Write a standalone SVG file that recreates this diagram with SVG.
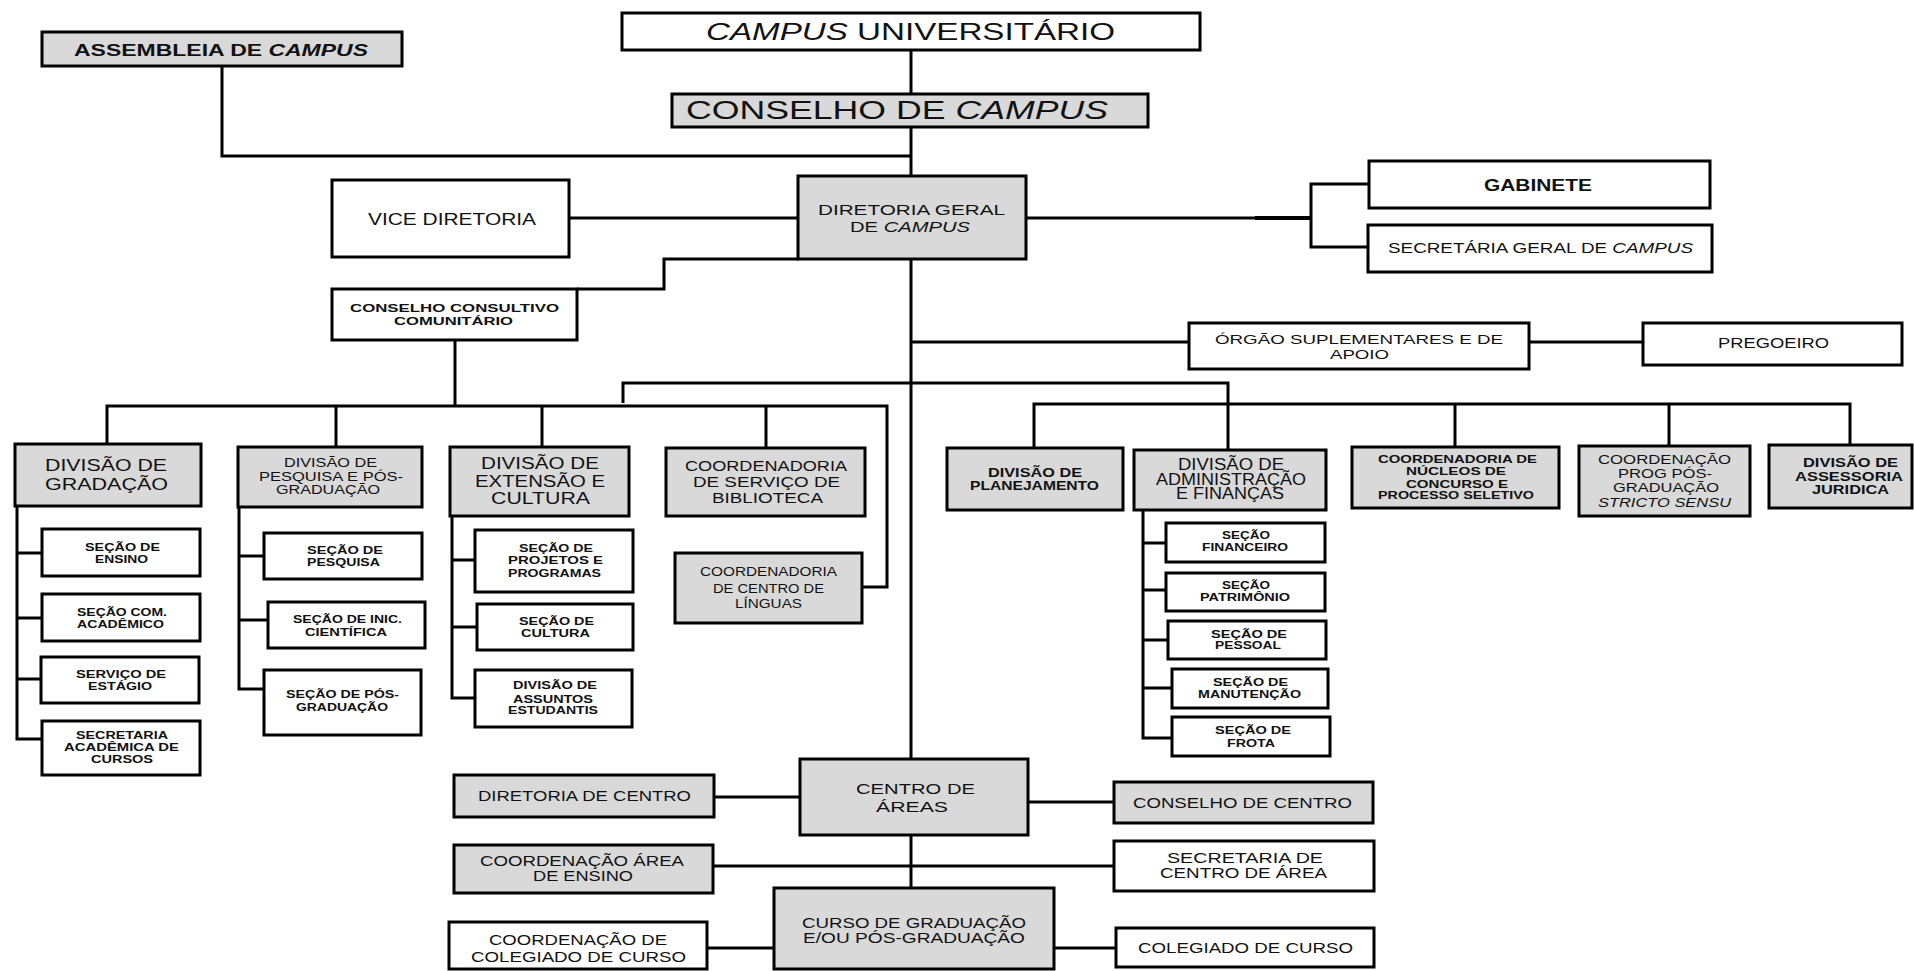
<svg xmlns="http://www.w3.org/2000/svg" width="1914" height="971" viewBox="0 0 1914 971">
<style>
.bx{stroke:#000;stroke-width:3}
.g{fill:#d9d9d9}
.w{fill:#fff}
text{font-family:"Liberation Sans",Arial,sans-serif;fill:#111;text-anchor:middle}
.b{font-weight:bold}
.i{font-style:italic}
#connectors path{fill:none;stroke:#000;stroke-width:3;stroke-linejoin:miter}
</style>
<rect width="1914" height="971" fill="#fff"/>
<g id="connectors">
<path d="M911 50V94"/>
<path d="M911 127V176"/>
<path d="M222 66V156H911"/>
<path d="M569 218H798"/>
<path d="M1026 218H1311"/>
<path d="M1255 218H1311" style="stroke-width:4"/>
<path d="M1369 184H1311V247H1368"/>
<path d="M798 259H664V289H577"/>
<path d="M911 259V759"/>
<path d="M911 342H1189"/>
<path d="M1529 342H1643"/>
<path d="M623 403V383H1228V450"/>
<path d="M455 340V406"/>
<path d="M107 444V406H887V587H862"/>
<path d="M336 406V447"/>
<path d="M542 406V447"/>
<path d="M766 406V448"/>
<path d="M1034 448V404H1850V445"/>
<path d="M1455 404V447"/>
<path d="M1669 404V446"/>
<path d="M17 506V739H42M17 553H42M17 618H42M17 679H41"/>
<path d="M239 507V689H264M239 556H264M239 620H268"/>
<path d="M452 516V698H475M452 560H475M452 627H477"/>
<path d="M1143 510V738H1172M1143 543H1166M1143 590H1166M1143 640H1168M1143 688H1172"/>
<path d="M714 797H800"/>
<path d="M1028 802H1114"/>
<path d="M911 835V888"/>
<path d="M713 866H1114"/>
<path d="M707 948H774"/>
<path d="M1054 948H1116"/>
</g>
<g id="campus-universitario"><rect class="bx w" x="622" y="13" width="578" height="37"/><text x="910.5" y="40" font-size="23" textLength="409" lengthAdjust="spacingAndGlyphs"><tspan class="i">CAMPUS</tspan> UNIVERSITÁRIO</text></g>
<g id="assembleia"><rect class="bx g" x="42" y="32" width="360" height="34"/><text class="b" x="221" y="56" font-size="17" textLength="294" lengthAdjust="spacingAndGlyphs">ASSEMBLEIA DE  <tspan class="i">CAMPUS</tspan></text></g>
<g id="conselho-campus"><rect class="bx g" x="672" y="94" width="476" height="33"/><text x="897" y="119" font-size="25" textLength="422" lengthAdjust="spacingAndGlyphs">CONSELHO DE <tspan class="i">CAMPUS</tspan></text></g>
<g id="vice-diretoria"><rect class="bx w" x="332" y="180" width="237" height="77"/><text x="452" y="225" font-size="16" textLength="168" lengthAdjust="spacingAndGlyphs">VICE DIRETORIA</text></g>
<g id="diretoria-geral"><rect class="bx g" x="798" y="176" width="228" height="83"/><text x="911.5" y="215" font-size="14" textLength="187" lengthAdjust="spacingAndGlyphs">DIRETORIA GERAL</text><text x="910" y="232" font-size="14" textLength="120" lengthAdjust="spacingAndGlyphs">DE <tspan class="i">CAMPUS</tspan></text></g>
<g id="gabinete"><rect class="bx w" x="1369" y="161" width="341" height="47"/><text class="b" x="1538" y="191" font-size="17" textLength="108" lengthAdjust="spacingAndGlyphs">GABINETE</text></g>
<g id="secretaria-geral"><rect class="bx w" x="1368" y="225" width="344" height="47"/><text x="1540.5" y="253" font-size="14" textLength="305" lengthAdjust="spacingAndGlyphs">SECRETÁRIA GERAL DE <tspan class="i">CAMPUS</tspan></text></g>
<g id="conselho-consultivo"><rect class="bx w" x="332" y="289" width="245" height="51"/><text class="b" x="454.5" y="312" font-size="11" textLength="209" lengthAdjust="spacingAndGlyphs">CONSELHO CONSULTIVO</text><text class="b" x="453.5" y="325" font-size="11" textLength="119" lengthAdjust="spacingAndGlyphs">COMUNITÁRIO</text></g>
<g id="orgao-suplementares"><rect class="bx w" x="1189" y="323" width="340" height="46"/><text x="1359" y="344" font-size="13" textLength="288" lengthAdjust="spacingAndGlyphs">ÓRGÃO SUPLEMENTARES E DE</text><text x="1359.5" y="359" font-size="13" textLength="59" lengthAdjust="spacingAndGlyphs">APOIO</text></g>
<g id="pregoeiro"><rect class="bx w" x="1643" y="323" width="259" height="42"/><text x="1773.5" y="348" font-size="15" textLength="111" lengthAdjust="spacingAndGlyphs">PREGOEIRO</text></g>
<g id="div-gradacao"><rect class="bx g" x="15" y="444" width="186" height="62"/><text x="106" y="471" font-size="17" textLength="122" lengthAdjust="spacingAndGlyphs">DIVISÃO DE</text><text x="106.5" y="490" font-size="17" textLength="123" lengthAdjust="spacingAndGlyphs">GRADAÇÃO</text></g>
<g id="div-pesquisa"><rect class="bx g" x="238" y="447" width="184" height="60"/><text x="330.5" y="467" font-size="12" textLength="93" lengthAdjust="spacingAndGlyphs">DIVISÃO DE</text><text x="331" y="481" font-size="12" textLength="144" lengthAdjust="spacingAndGlyphs">PESQUISA E PÓS-</text><text x="328" y="494" font-size="12" textLength="104" lengthAdjust="spacingAndGlyphs">GRADUAÇÃO</text></g>
<g id="div-extensao"><rect class="bx g" x="450" y="447" width="179" height="69"/><text x="540" y="469" font-size="16" textLength="118" lengthAdjust="spacingAndGlyphs">DIVISÃO DE</text><text x="540" y="487" font-size="16" textLength="130" lengthAdjust="spacingAndGlyphs">EXTENSÃO E</text><text x="540.5" y="504" font-size="16" textLength="99" lengthAdjust="spacingAndGlyphs">CULTURA</text></g>
<g id="coord-biblioteca"><rect class="bx g" x="666" y="448" width="199" height="68"/><text x="766" y="471" font-size="14" textLength="162" lengthAdjust="spacingAndGlyphs">COORDENADORIA</text><text x="766.5" y="487" font-size="14" textLength="147" lengthAdjust="spacingAndGlyphs">DE SERVIÇO DE</text><text x="767.5" y="503" font-size="14" textLength="111" lengthAdjust="spacingAndGlyphs">BIBLIOTECA</text></g>
<g id="coord-linguas"><rect class="bx g" x="675" y="553" width="187" height="70"/><text x="768.5" y="576" font-size="13" textLength="137" lengthAdjust="spacingAndGlyphs">COORDENADORIA</text><text x="768.5" y="593" font-size="13" textLength="111" lengthAdjust="spacingAndGlyphs">DE CENTRO DE</text><text x="768.5" y="608" font-size="13" textLength="67" lengthAdjust="spacingAndGlyphs">LÍNGUAS</text></g>
<g id="div-planejamento"><rect class="bx g" x="947" y="448" width="176" height="62"/><text class="b" x="1035" y="477" font-size="12" textLength="94" lengthAdjust="spacingAndGlyphs">DIVISÃO DE</text><text class="b" x="1034.5" y="490" font-size="12" textLength="129" lengthAdjust="spacingAndGlyphs">PLANEJAMENTO</text></g>
<g id="div-administracao"><rect class="bx g" x="1134" y="450" width="192" height="60"/><text x="1231" y="470" font-size="16" textLength="106" lengthAdjust="spacingAndGlyphs">DIVISÃO DE</text><text x="1231" y="485" font-size="16" textLength="150" lengthAdjust="spacingAndGlyphs">ADMINISTRAÇÃO</text><text x="1230" y="499" font-size="16" textLength="108" lengthAdjust="spacingAndGlyphs">E FINANÇAS</text></g>
<g id="coord-nucleos"><rect class="bx g" x="1352" y="447" width="207" height="61"/><text class="b" x="1457.5" y="463" font-size="10" textLength="159" lengthAdjust="spacingAndGlyphs">COORDENADORIA DE</text><text class="b" x="1456" y="475" font-size="10" textLength="100" lengthAdjust="spacingAndGlyphs">NÚCLEOS DE</text><text class="b" x="1457" y="488" font-size="10" textLength="102" lengthAdjust="spacingAndGlyphs">CONCURSO E</text><text class="b" x="1456" y="499" font-size="10" textLength="156" lengthAdjust="spacingAndGlyphs">PROCESSO SELETIVO</text></g>
<g id="coord-pos"><rect class="bx g" x="1579" y="446" width="171" height="70"/><text x="1664.5" y="464" font-size="13" textLength="133" lengthAdjust="spacingAndGlyphs">COORDENAÇÃO</text><text x="1665" y="478" font-size="13" textLength="94" lengthAdjust="spacingAndGlyphs">PROG PÓS-</text><text x="1666" y="492" font-size="13" textLength="106" lengthAdjust="spacingAndGlyphs">GRADUAÇÃO</text><text class="i" x="1664.5" y="507" font-size="13" textLength="133" lengthAdjust="spacingAndGlyphs">STRICTO SENSU</text></g>
<g id="div-assessoria"><rect class="bx g" x="1769" y="445" width="143" height="63"/><text class="b" x="1850.5" y="467" font-size="13" textLength="95" lengthAdjust="spacingAndGlyphs">DIVISÃO DE</text><text class="b" x="1849" y="481" font-size="13" textLength="108" lengthAdjust="spacingAndGlyphs">ASSESSORIA</text><text class="b" x="1850.5" y="494" font-size="13" textLength="77" lengthAdjust="spacingAndGlyphs">JURIDICA</text></g>
<g id="secao-ensino"><rect class="bx w" x="42" y="529" width="158" height="47"/><text class="b" x="122.5" y="551" font-size="10" textLength="75" lengthAdjust="spacingAndGlyphs">SEÇÃO DE</text><text class="b" x="121.5" y="563" font-size="10" textLength="53" lengthAdjust="spacingAndGlyphs">ENSINO</text></g>
<g id="secao-academico"><rect class="bx w" x="42" y="594" width="158" height="47"/><text class="b" x="122" y="616" font-size="10" textLength="90" lengthAdjust="spacingAndGlyphs">SEÇÃO COM.</text><text class="b" x="120.5" y="628" font-size="10" textLength="87" lengthAdjust="spacingAndGlyphs">ACADÊMICO</text></g>
<g id="servico-estagio"><rect class="bx w" x="41" y="657" width="158" height="46"/><text class="b" x="121" y="678" font-size="10" textLength="90" lengthAdjust="spacingAndGlyphs">SERVIÇO DE</text><text class="b" x="120" y="690" font-size="10" textLength="64" lengthAdjust="spacingAndGlyphs">ESTÁGIO</text></g>
<g id="secretaria-academica"><rect class="bx w" x="42" y="721" width="158" height="54"/><text class="b" x="122" y="739" font-size="10" textLength="92" lengthAdjust="spacingAndGlyphs">SECRETARIA</text><text class="b" x="121.5" y="751" font-size="10" textLength="115" lengthAdjust="spacingAndGlyphs">ACADÊMICA DE</text><text class="b" x="122" y="763" font-size="10" textLength="62" lengthAdjust="spacingAndGlyphs">CURSOS</text></g>
<g id="secao-pesquisa"><rect class="bx w" x="264" y="533" width="158" height="46"/><text class="b" x="345" y="554" font-size="10" textLength="76" lengthAdjust="spacingAndGlyphs">SEÇÃO DE</text><text class="b" x="343.5" y="566" font-size="10" textLength="73" lengthAdjust="spacingAndGlyphs">PESQUISA</text></g>
<g id="secao-inic"><rect class="bx w" x="268" y="602" width="157" height="46"/><text class="b" x="347.5" y="623" font-size="10" textLength="109" lengthAdjust="spacingAndGlyphs">SEÇÃO DE INIC.</text><text class="b" x="346" y="636" font-size="10" textLength="82" lengthAdjust="spacingAndGlyphs">CIENTÍFICA</text></g>
<g id="secao-pos"><rect class="bx w" x="264" y="670" width="157" height="65"/><text class="b" x="342.5" y="698" font-size="10" textLength="113" lengthAdjust="spacingAndGlyphs">SEÇÃO DE PÓS-</text><text class="b" x="342" y="711" font-size="10" textLength="92" lengthAdjust="spacingAndGlyphs">GRADUAÇÃO</text></g>
<g id="secao-projetos"><rect class="bx w" x="475" y="530" width="158" height="62"/><text class="b" x="556" y="552" font-size="10" textLength="74" lengthAdjust="spacingAndGlyphs">SEÇÃO DE</text><text class="b" x="555.5" y="564" font-size="10" textLength="95" lengthAdjust="spacingAndGlyphs">PROJETOS E</text><text class="b" x="554.5" y="577" font-size="10" textLength="93" lengthAdjust="spacingAndGlyphs">PROGRAMAS</text></g>
<g id="secao-cultura"><rect class="bx w" x="477" y="604" width="156" height="46"/><text class="b" x="556.5" y="625" font-size="10" textLength="75" lengthAdjust="spacingAndGlyphs">SEÇÃO DE</text><text class="b" x="555.5" y="637" font-size="10" textLength="69" lengthAdjust="spacingAndGlyphs">CULTURA</text></g>
<g id="div-assuntos"><rect class="bx w" x="475" y="670" width="157" height="57"/><text class="b" x="555" y="689" font-size="10" textLength="84" lengthAdjust="spacingAndGlyphs">DIVISÃO DE</text><text class="b" x="553" y="703" font-size="10" textLength="80" lengthAdjust="spacingAndGlyphs">ASSUNTOS</text><text class="b" x="553" y="714" font-size="10" textLength="90" lengthAdjust="spacingAndGlyphs">ESTUDANTIS</text></g>
<g id="secao-financeiro"><rect class="bx w" x="1166" y="523" width="159" height="39"/><text class="b" x="1246" y="539" font-size="10" textLength="48" lengthAdjust="spacingAndGlyphs">SEÇÃO</text><text class="b" x="1245" y="551" font-size="10" textLength="86" lengthAdjust="spacingAndGlyphs">FINANCEIRO</text></g>
<g id="secao-patrimonio"><rect class="bx w" x="1166" y="573" width="159" height="38"/><text class="b" x="1246" y="589" font-size="10" textLength="48" lengthAdjust="spacingAndGlyphs">SEÇÃO</text><text class="b" x="1245" y="601" font-size="10" textLength="90" lengthAdjust="spacingAndGlyphs">PATRIMÔNIO</text></g>
<g id="secao-pessoal"><rect class="bx w" x="1168" y="621" width="158" height="38"/><text class="b" x="1249" y="638" font-size="10" textLength="76" lengthAdjust="spacingAndGlyphs">SEÇÃO DE</text><text class="b" x="1248" y="649" font-size="10" textLength="66" lengthAdjust="spacingAndGlyphs">PESSOAL</text></g>
<g id="secao-manutencao"><rect class="bx w" x="1172" y="669" width="156" height="39"/><text class="b" x="1250.5" y="686" font-size="10" textLength="75" lengthAdjust="spacingAndGlyphs">SEÇÃO DE</text><text class="b" x="1249.5" y="698" font-size="10" textLength="103" lengthAdjust="spacingAndGlyphs">MANUTENÇÃO</text></g>
<g id="secao-frota"><rect class="bx w" x="1172" y="717" width="158" height="39"/><text class="b" x="1253" y="734" font-size="10" textLength="76" lengthAdjust="spacingAndGlyphs">SEÇÃO DE</text><text class="b" x="1251" y="747" font-size="10" textLength="48" lengthAdjust="spacingAndGlyphs">FROTA</text></g>
<g id="diretoria-centro"><rect class="bx g" x="454" y="775" width="260" height="42"/><text x="584.5" y="801" font-size="15" textLength="213" lengthAdjust="spacingAndGlyphs">DIRETORIA DE CENTRO</text></g>
<g id="centro-areas"><rect class="bx g" x="800" y="759" width="228" height="76"/><text x="915.5" y="794" font-size="15" textLength="119" lengthAdjust="spacingAndGlyphs">CENTRO DE</text><text x="912" y="812" font-size="15" textLength="72" lengthAdjust="spacingAndGlyphs">ÁREAS</text></g>
<g id="conselho-centro"><rect class="bx g" x="1114" y="782" width="259" height="41"/><text x="1242.5" y="808" font-size="15" textLength="219" lengthAdjust="spacingAndGlyphs">CONSELHO DE CENTRO</text></g>
<g id="coord-area-ensino"><rect class="bx g" x="454" y="845" width="259" height="48"/><text x="582" y="866" font-size="15" textLength="204" lengthAdjust="spacingAndGlyphs">COORDENAÇÃO ÁREA</text><text x="583" y="881" font-size="15" textLength="100" lengthAdjust="spacingAndGlyphs">DE ENSINO</text></g>
<g id="secretaria-centro"><rect class="bx w" x="1114" y="841" width="260" height="50"/><text x="1245" y="863" font-size="15" textLength="156" lengthAdjust="spacingAndGlyphs">SECRETARIA DE</text><text x="1243.5" y="878" font-size="15" textLength="167" lengthAdjust="spacingAndGlyphs">CENTRO DE ÁREA</text></g>
<g id="curso"><rect class="bx g" x="774" y="888" width="280" height="81"/><text x="914" y="928" font-size="15" textLength="224" lengthAdjust="spacingAndGlyphs">CURSO DE GRADUAÇÃO</text><text x="914" y="943" font-size="15" textLength="222" lengthAdjust="spacingAndGlyphs">E/OU PÓS-GRADUAÇÃO</text></g>
<g id="coord-colegiado"><rect class="bx w" x="449" y="922" width="258" height="47"/><text x="578" y="945" font-size="15" textLength="178" lengthAdjust="spacingAndGlyphs">COORDENAÇÃO DE</text><text x="578.5" y="962" font-size="15" textLength="215" lengthAdjust="spacingAndGlyphs">COLEGIADO DE CURSO</text></g>
<g id="colegiado"><rect class="bx w" x="1116" y="928" width="258" height="39"/><text x="1245.5" y="953" font-size="15" textLength="215" lengthAdjust="spacingAndGlyphs">COLEGIADO DE CURSO</text></g>
</svg>
